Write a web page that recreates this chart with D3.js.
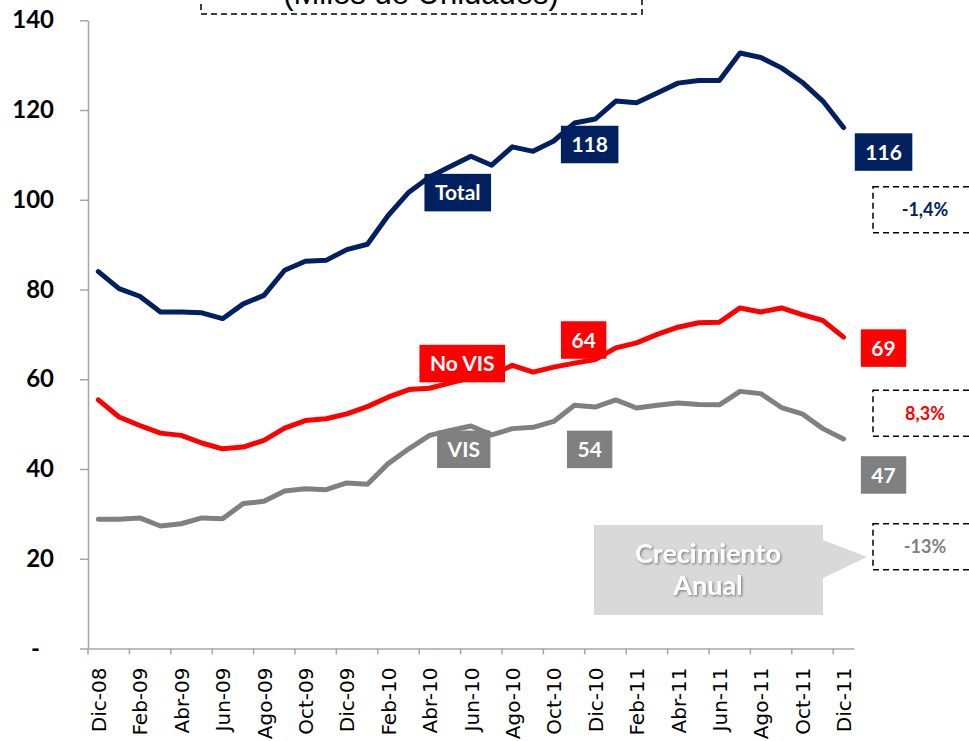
<!DOCTYPE html>
<html>
<head>
<meta charset="utf-8">
<script src="https://cdn.jsdelivr.net/npm/d3@7"></script>
<style>
  body { margin: 0; background: #ffffff; }
</style>
</head>
<body>
<div id="visSpace"></div>
<script>
//Categories: one per month, Dic-08 .. Dic-11
var months = ["Dic-08", "Ene-09", "Feb-09", "Mar-09", "Abr-09", "May-09", "Jun-09",
              "Jul-09", "Ago-09", "Sep-09", "Oct-09", "Nov-09", "Dic-09", "Ene-10",
              "Feb-10", "Mar-10", "Abr-10", "May-10", "Jun-10", "Jul-10", "Ago-10",
              "Sep-10", "Oct-10", "Nov-10", "Dic-10", "Ene-11", "Feb-11", "Mar-11",
              "Abr-11", "May-11", "Jun-11", "Jul-11", "Ago-11", "Sep-11", "Oct-11",
              "Nov-11", "Dic-11"];
//Series values (miles de unidades)
var totalValues = [84.0, 80.2, 78.5, 75.0, 75.0, 74.8, 73.5, 76.8, 78.7, 84.3, 86.3, 86.5,
                   88.9, 90.1, 96.5, 101.7, 105.1, 107.4, 109.7, 107.7, 111.8, 110.8, 113.1,
                   117.1, 118.0, 122.0, 121.6, 123.8, 126.0, 126.6, 126.6, 132.7, 131.7,
                   129.4, 126.2, 122.0, 116.1];
var noVisValues = [55.4, 51.6, 49.7, 48.0, 47.5, 45.8, 44.5, 44.9, 46.4, 49.1, 50.8, 51.2,
                   52.3, 53.9, 56.0, 57.7, 58.0, 59.2, 60.3, 61.0, 63.1, 61.6, 62.7,
                   63.6, 64.4, 67.0, 68.1, 70.0, 71.6, 72.6, 72.7, 75.9, 75.0,
                   75.9, 74.4, 73.1, 69.4];
var visValues = [28.8, 28.8, 29.1, 27.3, 27.8, 29.1, 28.9, 32.3, 32.8, 35.1, 35.6, 35.4,
                 36.9, 36.6, 41.2, 44.5, 47.5, 48.6, 49.6, 47.6, 49.0, 49.3, 50.6,
                 54.2, 53.8, 55.4, 53.6, 54.2, 54.7, 54.4, 54.3, 57.3, 56.8,
                 53.7, 52.3, 49.0, 46.7];
//Axis ticks
var yTicks = [0, 20, 40, 60, 80, 100, 120, 140];
//Annual growth labels (Total, No VIS, VIS)
var growthLabels = ["-1,4%", "8,3%", "-13%"];
var titleText = "(Miles de Unidades)";
var calloutLines = ["Crecimiento", "Anual"];

var width = 969;
var height = 741;
var labelFont = "Lato, 'Noto Sans', sans-serif";

var svg = d3.select("#visSpace")
            .append("svg")
            .attr("width", width)
            .attr("height", height)
            .style("display", "block");

//Drop shadow for the callout text
var defs = svg.append("defs");
var shadow = defs.append("filter")
                 .attr("id", "txtShadow")
                 .attr("x", "-10%").attr("y", "-30%")
                 .attr("width", "120%").attr("height", "160%");
shadow.append("feDropShadow")
      .attr("dx", 1.2).attr("dy", 1.2)
      .attr("stdDeviation", 1)
      .attr("flood-color", "#555")
      .attr("flood-opacity", 0.7);

//Scales
var x = d3.scaleBand()
          .domain(months)
          .range([88, 88 + months.length * 20.7])
          .padding(0);
var y = d3.scaleLinear()
          .domain([0, 140])
          .range([648.5, 20.3]);
var cx = function(m){ return x(m) + x.bandwidth() / 2; };

//Series table built from the arrays above
var series = [
  {name: "Total",  values: totalValues, color: "#002060", growth: growthLabels[0]},
  {name: "No VIS", values: noVisValues, color: "#ff0000", growth: growthLabels[1]},
  {name: "VIS",    values: visValues,   color: "#808080", growth: growthLabels[2]}
];

//Title box (cut at the top of the picture, as in the original)
svg.append("rect")
   .attr("x", 201).attr("y", -40)
   .attr("width", 441).attr("height", 54)
   .attr("fill", "none")
   .attr("stroke", "#000")
   .attr("stroke-width", 1.5)
   .attr("stroke-dasharray", "6,4");
svg.append("text")
   .attr("x", 421).attr("y", 4)
   .attr("text-anchor", "middle")
   .attr("font-family", "'Liberation Sans', Arial, sans-serif")
   .attr("font-size", "31px")
   .text(titleText);

//Y axis
var yAxis = d3.axisLeft(y)
              .tickValues(yTicks)
              .tickSize(8)
              .tickSizeOuter(0)
              .tickPadding(26)
              .tickFormat(function(d){ return d === 0 ? "-" : d; });
var gy = svg.append("g")
            .attr("transform", "translate(88,0)")
            .call(yAxis);
gy.select(".domain").attr("stroke", "#a6a6a6").attr("stroke-width", 1.5);
gy.selectAll(".tick line").attr("stroke", "#a6a6a6").attr("stroke-width", 1.5);
gy.selectAll(".tick text")
  .attr("font-family", labelFont)
  .attr("font-weight", "bold")
  .attr("font-size", "24px")
  .attr("fill", "#000")
  .attr("dx", function(d){ return d === 0 ? -14 : 0; });

//X axis: labels every second month, ticks between categories
var xAxis = d3.axisBottom(x)
              .tickValues(months.filter(function(d, i){ return i % 2 === 0; }))
              .tickSize(6)
              .tickSizeOuter(0);
var gx = svg.append("g")
            .attr("transform", "translate(0," + y(0) + ")")
            .call(xAxis);
gx.select(".domain").attr("stroke", "#a6a6a6").attr("stroke-width", 1.5);
gx.selectAll(".tick line")
  .attr("stroke", "#a6a6a6")
  .attr("stroke-width", 1.5)
  .attr("x1", -x.bandwidth() / 2)
  .attr("x2", -x.bandwidth() / 2);
gx.selectAll(".tick text")
  .attr("font-family", "'DejaVu Sans', Verdana, sans-serif")
  .attr("font-size", "20px")
  .attr("fill", "#000")
  .attr("text-anchor", "end")
  .attr("transform", "rotate(-90)")
  .attr("x", -19)
  .attr("y", 0)
  .attr("dy", "0.38em");

//Lines
var line = d3.line()
             .x(function(d, i){ return cx(months[i]); })
             .y(function(d){ return y(d); });
svg.append("g")
   .selectAll("path")
   .data(series)
   .enter()
   .append("path")
   .attr("d", function(d){ return line(d.values); })
   .attr("fill", "none")
   .attr("stroke", function(d){ return d.color; })
   .attr("stroke-width", 5)
   .attr("stroke-linejoin", "round")
   .attr("stroke-linecap", "round");

//Boxed labels: series names and values at Dic-10 / Dic-11
function valueAt(s, m){ return s.values[months.indexOf(m)]; }
var boxLabels = [
  {s: 0, text: "Total",  cat: "May-10", val: 101.6, dx: 7.5},
  {s: 1, text: "No VIS", cat: "May-10", val: 63.5,  dx: 12},
  {s: 2, text: "VIS",    cat: "May-10", val: 44.4,  dx: 13.5},
  {s: 0, cat: "Dic-10", dx: -5.5, dy: 25.5},
  {s: 1, cat: "Dic-10", dx: -11.5, dy: -19.5},
  {s: 2, cat: "Dic-10", dx: -5.5, dy: 42.3},
  {s: 0, cat: "Dic-11", dx: 40, dy: 24.5},
  {s: 1, cat: "Dic-11", dx: 40, dy: 11},
  {s: 2, cat: "Dic-11", dx: 40, dy: 36}
];
var labelGroup = svg.append("g");
boxLabels.forEach(function(b){
  var s = series[b.s];
  var v = b.val !== undefined ? b.val : valueAt(s, b.cat);
  var txt = b.text !== undefined ? b.text : d3.format(".0f")(v);
  var px = cx(b.cat) + (b.dx || 0);
  var py = y(v) + (b.dy || 0);
  var g = labelGroup.append("g");
  var rect = g.append("rect").attr("fill", s.color);
  var t = g.append("text")
           .attr("x", px).attr("y", py)
           .attr("dy", "0.36em")
           .attr("text-anchor", "middle")
           .attr("font-family", labelFont)
           .attr("font-weight", "bold")
           .attr("font-size", "21px")
           .attr("fill", "#fff")
           .text(txt);
  var w = t.node().getComputedTextLength() + 21;
  rect.attr("x", px - w / 2).attr("y", py - 18.75)
      .attr("width", w).attr("height", 37.5);
});

//Growth boxes on the right
var growthPos = [97.8, 52.4, 22.7];
var growthGroup = svg.append("g");
series.forEach(function(s, i){
  growthGroup.append("rect")
             .attr("x", 873).attr("y", y(growthPos[i]) - 23)
             .attr("width", 110).attr("height", 46)
             .attr("fill", "#fff")
             .attr("stroke", "#000")
             .attr("stroke-width", 1.5)
             .attr("stroke-dasharray", "6,4");
  growthGroup.append("text")
             .attr("x", 925).attr("y", y(growthPos[i]))
             .attr("dy", "0.36em")
             .attr("text-anchor", "middle")
             .attr("font-family", labelFont)
             .attr("font-weight", "bold")
             .attr("font-size", "18px")
             .attr("fill", s.color)
             .text(s.growth);
});

//Callout "Crecimiento Anual"
var callout = svg.append("g");
callout.append("path")
       .attr("d", "M594,525 H823 V540 L867,557 L823,578 V615 H594 Z")
       .attr("fill", "#d9d9d9");
callout.selectAll("text")
       .data(calloutLines)
       .enter()
       .append("text")
       .attr("x", 708)
       .attr("y", function(d, i){ return 563 + i * 32; })
       .attr("text-anchor", "middle")
       .attr("font-family", labelFont)
       .attr("font-weight", "bold")
       .attr("font-size", "27px")
       .attr("fill", "#fff")
       .attr("filter", "url(#txtShadow)")
       .text(function(d){ return d; });
</script>
</body>
</html>
